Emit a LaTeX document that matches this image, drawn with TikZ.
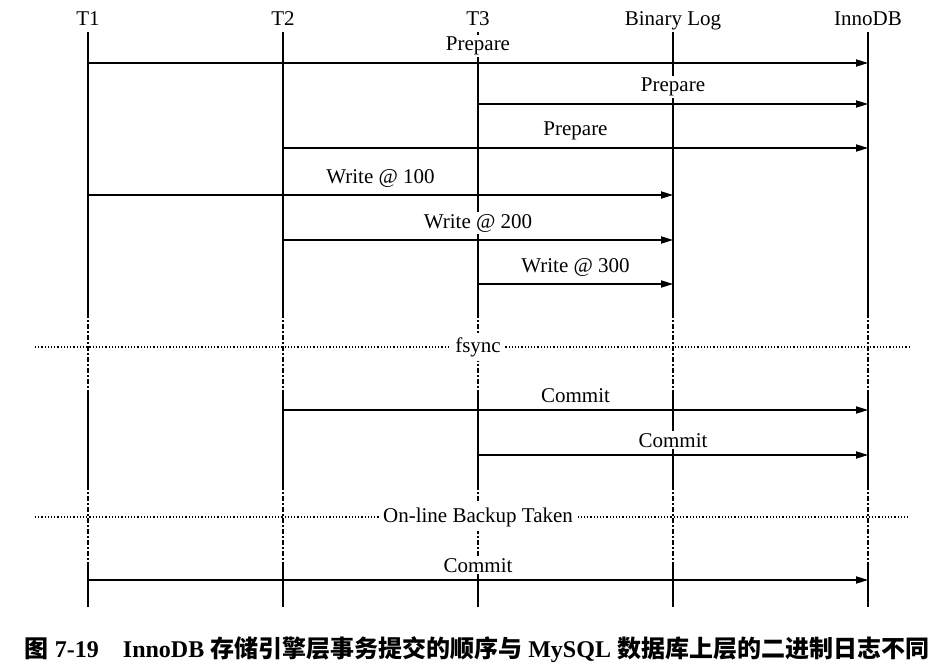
\documentclass[tikz,border=0pt]{standalone}
\usepackage{fontspec}
\setmainfont{Liberation Serif}
\newfontfamily\cjk{Noto Sans CJK SC}
\usetikzlibrary{arrows.meta}

\begin{document}
\begin{tikzpicture}
  [x=0.5pt,y=-0.5pt,line width=0.6pt,
   font=\fontsize{10.5}{12}\selectfont,
   every node/.style={inner sep=1.5pt},
   head/.style={text height=7.5pt,text depth=2.3pt,inner sep=1pt},
   msg/.style={-{Triangle[length=6pt,width=3.6pt]}},
   msglabel/.style={fill=white,inner sep=1pt,above=2.5pt},
   gap/.style={dash pattern=on 2.5pt off 1.2pt on 0.6pt off 1.2pt},
   sep/.style={densely dotted},
   seplabel/.style={fill=white,inner sep=2pt}]
  \useasboundingbox (0,0) rectangle (938,668);
  \node[head] (t1) at (88,20)  {T1};
  \node[head] (t2) at (283,20) {T2};
  \node[head] (t3) at (478,20) {T3};
  \node[head] (bl) at (673,20) {Binary Log};
  \node[head] (db) at (868,20) {InnoDB};

  % lifelines
  \foreach \n in {t1,t2,t3,bl,db} {
    \draw (\n.south) -- (\n |- 0,313);
    \draw[gap] (\n |- 0,313) -- (\n |- 0,392);
    \draw (\n |- 0,392) -- (\n |- 0,485);
    \draw[gap] (\n |- 0,485) -- (\n |- 0,562);
    \draw (\n |- 0,562) -- (\n |- 0,607);
  }

  % messages
  \foreach \from/\to/\y/\txt in {t1/db/63/Prepare, t3/db/104/Prepare,
      t2/db/148/Prepare, t1/bl/195/Write @ 100, t2/bl/240/Write @ 200,
      t3/bl/284/Write @ 300, t2/db/410/Commit, t3/db/455/Commit,
      t1/db/580/Commit}
    \draw[msg] (\from |- 0,\y) -- node[msglabel] {\txt} (\to |- 0,\y);

  % separators
  \coordinate (fsl) at (35,347);
  \coordinate (fsr) at (910,347);
  \node[seplabel] (fs) at (478,347) {fsync};
  \draw[sep] (fsl) -- (fs.west);
  \draw[sep] (fs.east) -- (fsr);

  \coordinate (bkl) at (35,517);
  \coordinate (bkr) at (910,517);
  \node[seplabel] (bk) at (478,517) {On-line Backup Taken};
  \draw[sep] (bkl) -- (bk.west);
  \draw[sep] (bk.east) -- (bkr);

  \node[font=\fontsize{12}{14}\selectfont\bfseries] (cap) at (477,650)
    {{\cjk 图} 7-19\quad InnoDB {\cjk 存储引擎层事务提交的顺序与} MySQL {\cjk 数据库上层的二进制日志不同}};
\end{tikzpicture}
\end{document}
